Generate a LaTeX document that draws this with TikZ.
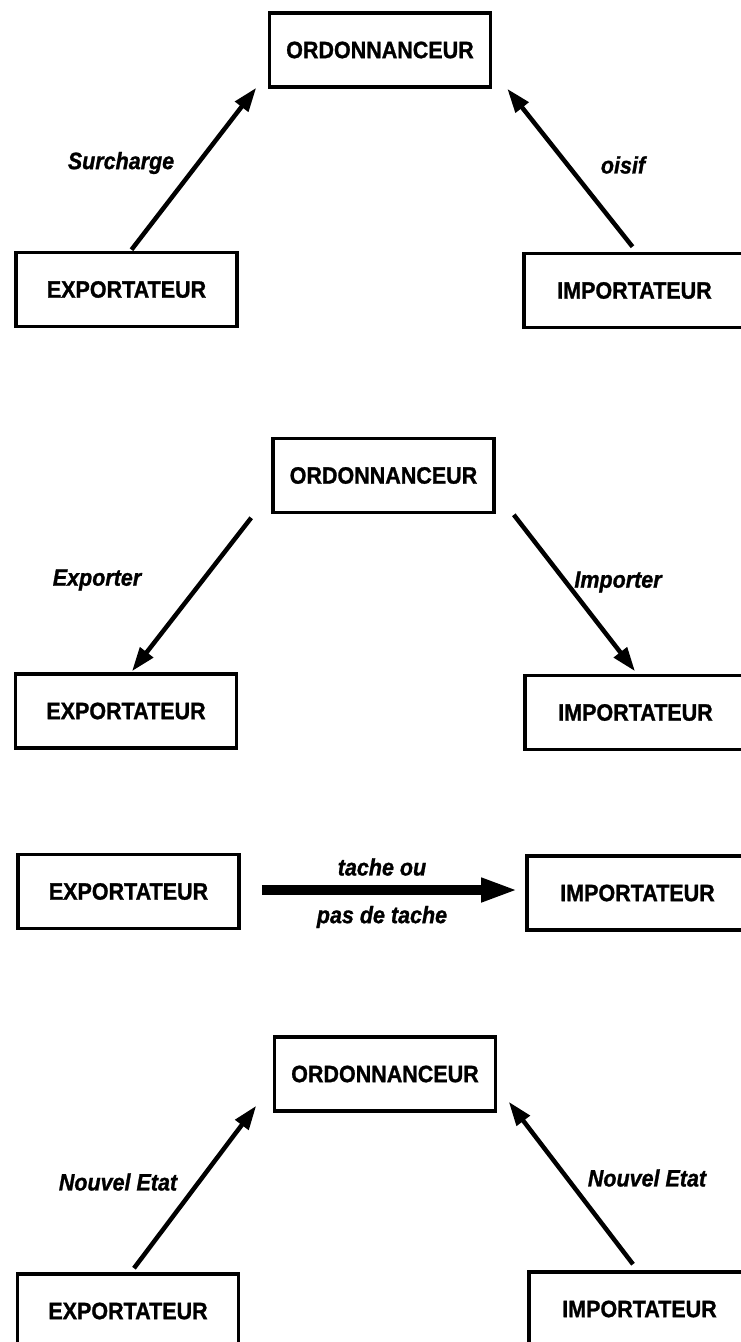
\documentclass[tikz,border=0pt]{standalone}
\usepackage{fontspec}
\setmainfont{Liberation Sans}[
  BoldFeatures={FakeBold=1.2},
  BoldItalicFeatures={FakeBold=1.2}]
\usetikzlibrary{arrows.meta,calc}
\newcommand{\tallword}[1]{\scalebox{1}[1.1]{#1}}
\tikzset{
  box/.style={draw, line width=3.6pt, minimum width=221pt, minimum height=74pt,
    inner sep=0pt, font=\bfseries\fontsize{21.5}{24}\selectfont},
  lbl/.style={font=\bfseries\itshape\fontsize{21.5}{24}\selectfont, inner sep=0pt},
  arr/.style={line width=4.5pt, -{Triangle[length=24pt,width=16pt]}},
  fatarr/.style={line width=10pt, -{Triangle[length=37pt,width=22pt]}}
}
\begin{document}
\begin{tikzpicture}[x=1pt,y=-1pt]
\useasboundingbox (0,0) rectangle (741,1342);
\clip (0,0) rectangle (741,1342);

% --- state reports to the scheduler
\node[box] (ord1) at (380,50) {\tallword{ORDONNANCEUR}};
\node[box] (exp1) at (126.5,289.5) {\tallword{EXPORTATEUR}};
\node[box] (imp1) at (634.5,290.5) {\tallword{IMPORTATEUR}};
\draw[arr] ($(exp1.north)+(5,-1)$) -- ($(ord1.south west)+(-11.5,-1)$);
\draw[arr] ($(imp1.north)+(-2,-5)$) -- ($(ord1.south east)+(15,0)$);
\node[lbl] (l1a) at (121,163) {\tallword{Surcharge}};
\node[lbl] (l1b) at (623,165) {\tallword{oisif}};

% --- scheduler orders
\node[box] (ord2) at (383.5,475.5) {\tallword{ORDONNANCEUR}};
\node[box] (exp2) at (126,711) {\tallword{EXPORTATEUR}};
\node[box] (imp2) at (635.5,712.5) {\tallword{IMPORTATEUR}};
\draw[arr] ($(ord2.south west)+(-20,3.5)$) -- ($(exp2.north)+(6,-1)$);
\draw[arr] ($(ord2.south east)+(18,0.5)$) -- ($(imp2.north)+(-0.5,-2.5)$);
\node[lbl] (l2a) at (97,580) {\tallword{Exporter}};
\node[lbl] (l2b) at (618,582) {\tallword{Importer}};

% --- task transfer
\node[box] (exp3) at (128.5,891.5) {\tallword{EXPORTATEUR}};
\node[box] (imp3) at (637.5,893) {\tallword{IMPORTATEUR}};
\coordinate (a3) at ($(exp3.east)+(21,-1.5)$);
\coordinate (b3) at ($(imp3.west)+(-7,-3)$);
\draw[fatarr] (a3) -- (b3);
\node[lbl] (l3a) at (382,867) {\tallword{tache ou}};
\node[lbl] (l3b) at (382,917) {\tallword{pas de tache}};

% --- new state reports
\node[box] (ord4) at (385,1074) {\tallword{ORDONNANCEUR}};
\node[box] (exp4) at (128,1311) {\tallword{EXPORTATEUR}};
\node[box] (imp4) at (639.5,1309) {\tallword{IMPORTATEUR}};
\draw[arr] ($(exp4.north)+(6,-4)$) -- ($(ord4.south west)+(-16.5,-7)$);
\draw[arr] ($(imp4.north)+(-6.5,-6)$) -- ($(ord4.south east)+(11.5,-11)$);
\node[lbl] (l4a) at (118,1182) {\tallword{Nouvel Etat}};
\node[lbl] (l4b) at (647,1178) {\tallword{Nouvel Etat}};
\end{tikzpicture}
\end{document}
